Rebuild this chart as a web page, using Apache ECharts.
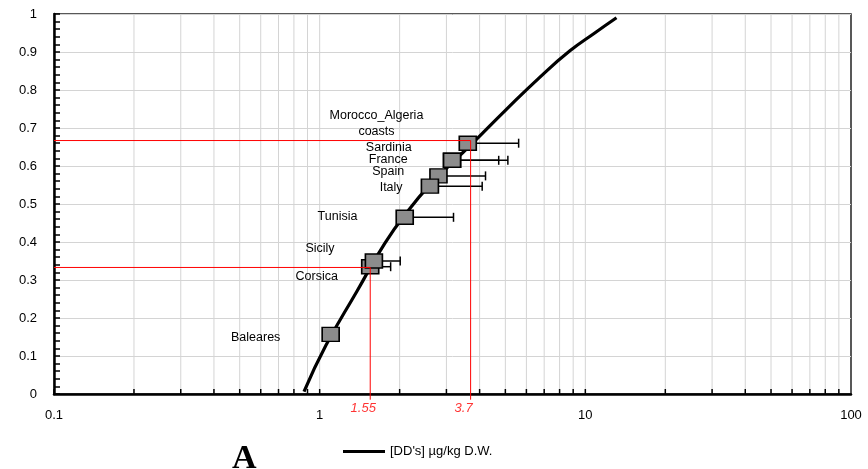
<!DOCTYPE html>
<html>
<head>
<meta charset="utf-8">
<script src="https://cdn.jsdelivr.net/npm/echarts@6/dist/echarts.min.js"></script>
<style>
  html, body { margin: 0; padding: 0; background: #fff; }
  #chart { width: 868px; height: 469px; }
</style>
</head>
<body>
<div id="chart"></div>
<script>
/* cumulative curve */
var curveX = [0.873, 1.056, 1.378, 1.761, 2.19, 2.60, 3.15, 3.84, 4.98, 6.75, 8.75, 10.85, 13.1];
var curveY = [0.006, 0.128, 0.269, 0.397, 0.489, 0.55, 0.608, 0.666, 0.745, 0.834, 0.903, 0.950, 0.990];

/* sites (mean + upper error) */
var siteNames = ['Morocco_Algeria\ncoasts', 'Sardinia', 'France', 'Spain', 'Italy', 'Tunisia', 'Corsica', 'Sicily', 'Baleares'];
var siteX = [3.61, 3.15, 3.15, 2.80, 2.60, 2.09, 1.55, 1.60, 1.10];
var siteY = [0.660, 0.615, 0.615, 0.574, 0.547, 0.465, 0.335, 0.350, 0.157];
var siteHigh = [5.61, 4.72, 5.11, 4.21, 4.09, 3.19, 1.85, 2.01, 1.10];

/* reference levels */
var refConc = [1.55, 3.7];
var refProb = [0.333, 0.667];

// label placement for the site names (offset from left edge of square)
var labelOffsets = [[-82, -20], [-31, -13], [-35, -1], [-25, -4], [-18, 1], [-38, -1], [-23, 10], [-30, -12], [-41, 3]];

var logGrid = [];
for (var d = 0.1; d < 100; d *= 10) {
  for (var k = 1; k < 10; k++) {
    logGrid.push([+(d * k).toPrecision(2), 0]);
  }
}

var curveData = [];
for (var i = 0; i < curveX.length; i++) curveData.push([curveX[i], curveY[i]]);

var siteData = [];
var errData = [];
for (var i = 0; i < siteNames.length; i++) {
  siteData.push({
    value: [siteX[i], siteY[i]],
    name: siteNames[i],
    label: {
      offset: labelOffsets[i],
      align: i === 0 ? 'center' : 'right'
    }
  });
  errData.push([siteX[i], siteY[i], siteHigh[i]]);
}

var myChart = echarts.init(document.getElementById('chart'));

var font = 'Liberation Sans';
var option = {
  animation: false,
  grid: {
    left: 54, right: 17, top: 14, bottom: 75,
    show: true, borderColor: '#222', borderWidth: 1.5
  },
  legend: {
    left: 338, top: 440,
    icon: 'rect', itemWidth: 42, itemHeight: 3, itemGap: 6,
    data: ["[DD's] µg/kg D.W."],
    textStyle: { fontFamily: font, fontSize: 13, color: '#000' }
  },
  xAxis: {
    type: 'log', logBase: 10, min: 0.1, max: 100,
    axisLine: { lineStyle: { color: '#000', width: 2.5 } },
    axisTick: { show: false },
    splitLine: { show: false },
    axisLabel: { margin: 15, fontFamily: font, fontSize: 13, color: '#000' }
  },
  yAxis: {
    type: 'value', min: 0, max: 1, interval: 0.1,
    axisLine: { show: true, lineStyle: { color: '#000', width: 2.5 } },
    axisTick: { show: true, inside: true, length: 6, lineStyle: { color: '#000', width: 1.5 } },
    minorTick: { show: true, splitNumber: 5, length: 6, lineStyle: { color: '#000', width: 1.5 } },
    splitLine: { show: true, lineStyle: { color: '#d4d4d4', width: 1 } },
    axisLabel: {
      margin: 17, fontFamily: font, fontSize: 13, color: '#000',
      formatter: function (v) { return +v.toFixed(1) + ''; }
    }
  },
  graphic: [{
    type: 'text', left: 232, top: 442,
    style: { text: 'A', font: 'bold 34px "Liberation Serif"', fill: '#000' }
  }],
  series: [
    {
      name: 'grid',
      type: 'custom',
      silent: true,
      z: 0,
      clip: false,
      data: logGrid,
      renderItem: function (params, api) {
        var v = api.value(0);
        var bot = api.coord([v, 0]);
        var top = api.coord([v, 1]);
        return {
          type: 'group',
          children: [
            { type: 'line', shape: { x1: bot[0], y1: bot[1], x2: top[0], y2: top[1] },
              style: { stroke: '#d4d4d4', lineWidth: 1 } },
            { type: 'line', shape: { x1: bot[0], y1: bot[1], x2: bot[0], y2: bot[1] - 5 },
              style: { stroke: '#000', lineWidth: 1.5 } }
          ]
        };
      }
    },
    {
      name: "[DD's] µg/kg D.W.",
      type: 'line',
      data: curveData,
      smooth: 0.5,
      symbol: 'none',
      showSymbol: false,
      z: 3,
      lineStyle: { color: '#000', width: 3.2 },
      itemStyle: { color: '#000' }
    },
    {
      name: 'err',
      type: 'custom',
      z: 4,
      data: errData,
      renderItem: function (params, api) {
        var p0 = api.coord([api.value(0), api.value(1)]);
        var p1 = api.coord([api.value(2), api.value(1)]);
        return {
          type: 'group',
          children: [
            { type: 'line', shape: { x1: p0[0], y1: p0[1], x2: p1[0], y2: p1[1] },
              style: { stroke: '#000', lineWidth: 1.5 } },
            { type: 'line', shape: { x1: p1[0], y1: p1[1] - 4.5, x2: p1[0], y2: p1[1] + 4.5 },
              style: { stroke: '#000', lineWidth: 1.5 } }
          ]
        };
      }
    },
    {
      name: 'sites',
      type: 'scatter',
      z: 5,
      symbol: 'rect',
      symbolSize: [17, 14],
      itemStyle: { color: '#8c8c8c', borderColor: '#000', borderWidth: 1.5, opacity: 1 },
      label: {
        show: true,
        position: 'left',
        distance: 0,
        formatter: '{b}',
        fontFamily: font,
        fontSize: 12.5,
        lineHeight: 16,
        color: '#000'
      },
      data: siteData
    },
    {
      name: 'ref1',
      type: 'line',
      z: 6,
      clip: false,
      symbol: 'none',
      silent: true,
      lineStyle: { color: '#ff0000', width: 1 },
      data: [[0.1, refProb[0]], [refConc[0], refProb[0]], [refConc[0], -0.015]]
    },
    {
      name: 'ref2',
      type: 'line',
      z: 6,
      clip: false,
      symbol: 'none',
      silent: true,
      lineStyle: { color: '#ff0000', width: 1 },
      data: [[0.1, refProb[1]], [refConc[1], refProb[1]], [refConc[1], -0.015]]
    },
    {
      name: 'refLabels',
      type: 'scatter',
      z: 6,
      clip: false,
      silent: true,
      symbolSize: 0,
      label: {
        show: true,
        position: 'bottom',
        distance: 8,
        offset: [-7, 0],
        fontFamily: font,
        fontStyle: 'italic',
        fontSize: 13,
        color: '#ff0000',
        formatter: function (p) { return p.value[0] + ''; }
      },
      data: [[refConc[0], 0], [refConc[1], 0]]
    }
  ]
};

myChart.setOption(option);
</script>
</body>
</html>
